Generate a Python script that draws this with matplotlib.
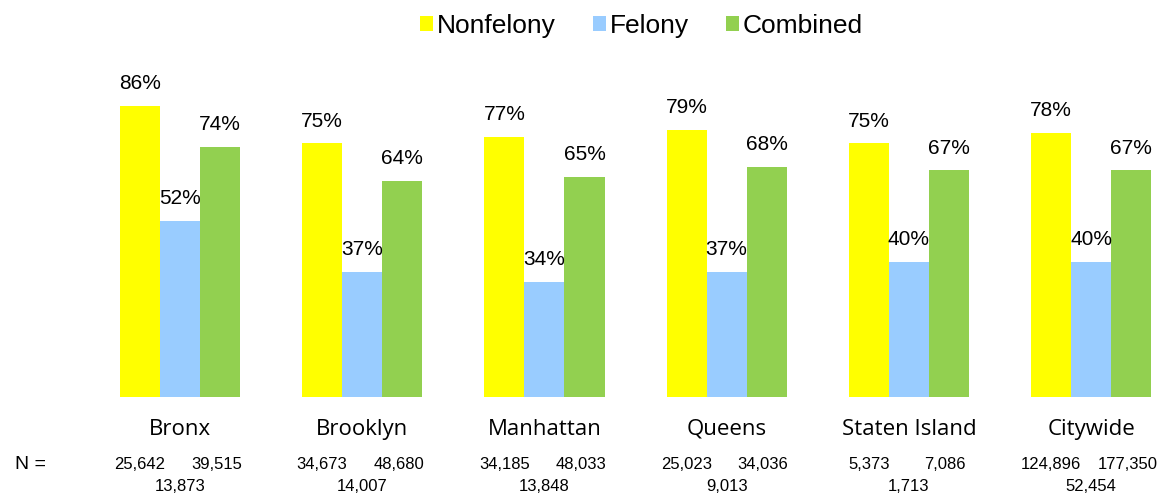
import matplotlib.pyplot as plt
import numpy as np

# Data
boroughs = ['Bronx', 'Brooklyn', 'Manhattan', 'Queens', 'Staten Island', 'Citywide']
nonfelony = [86, 75, 77, 79, 75, 78]
felony = [52, 37, 34, 37, 40, 40]
combined = [74, 64, 65, 68, 67, 67]

n_nonfelony = ['25,642', '34,673', '34,185', '25,023', '5,373', '124,896']
n_felony = ['13,873', '14,007', '13,848', '9,013', '1,713', '52,454']
n_combined = ['39,515', '48,680', '48,033', '34,036', '7,086', '177,350']

colors = {'Nonfelony': '#FFFF00', 'Felony': '#99CCFF', 'Combined': '#92D050'}

fig = plt.figure(figsize=(11.64, 4.95), dpi=100)
ax = fig.add_axes([0.0842, 0.198, 0.9158, 0.683])

x = np.arange(len(boroughs))
width = 0.22

series = [('Nonfelony', nonfelony, -width), ('Felony', felony, 0.0), ('Combined', combined, width)]
for name, vals, off in series:
    ax.bar(x + off, vals, width=width, color=colors[name], label=name, linewidth=0)
    # percentage labels above each bar
    for xi, v in zip(x, vals):
        ax.text(xi + off, v + 6.6, f'{v}%', ha='center', va='center',
                fontsize=15, family='Liberation Sans')

ax.set_xlim(-0.45, 5.4)
ax.set_ylim(0, 100)
ax.axis('off')

# category names and N counts under the bars
for xi, name, a, b, c in zip(x, boroughs, n_nonfelony, n_felony, n_combined):
    ax.text(xi, -9.6, name, ha='center', va='center', fontsize=16,
            family='Open Sans', clip_on=False)
    ax.text(xi - width, -20.1, a, ha='center', va='center', fontsize=12,
            family='Liberation Sans', clip_on=False)
    ax.text(xi + 0.2, -20.1, c, ha='center', va='center', fontsize=12,
            family='Liberation Sans', clip_on=False)
    ax.text(xi, -26.6, b, ha='center', va='center', fontsize=12,
            family='Liberation Sans', clip_on=False)

ax.text(-0.82, -20.1, 'N =', ha='center', va='center', fontsize=14,
        family='Liberation Sans', clip_on=False)

fig.legend(loc='upper center', bbox_to_anchor=(0.551, 1.02), ncol=3, frameon=False,
           prop={'family': 'Liberation Sans', 'size': 19},
           handlelength=0.5, handleheight=0.5, handletextpad=0.15, columnspacing=1.4)

fig.savefig('out.png', dpi=100)
